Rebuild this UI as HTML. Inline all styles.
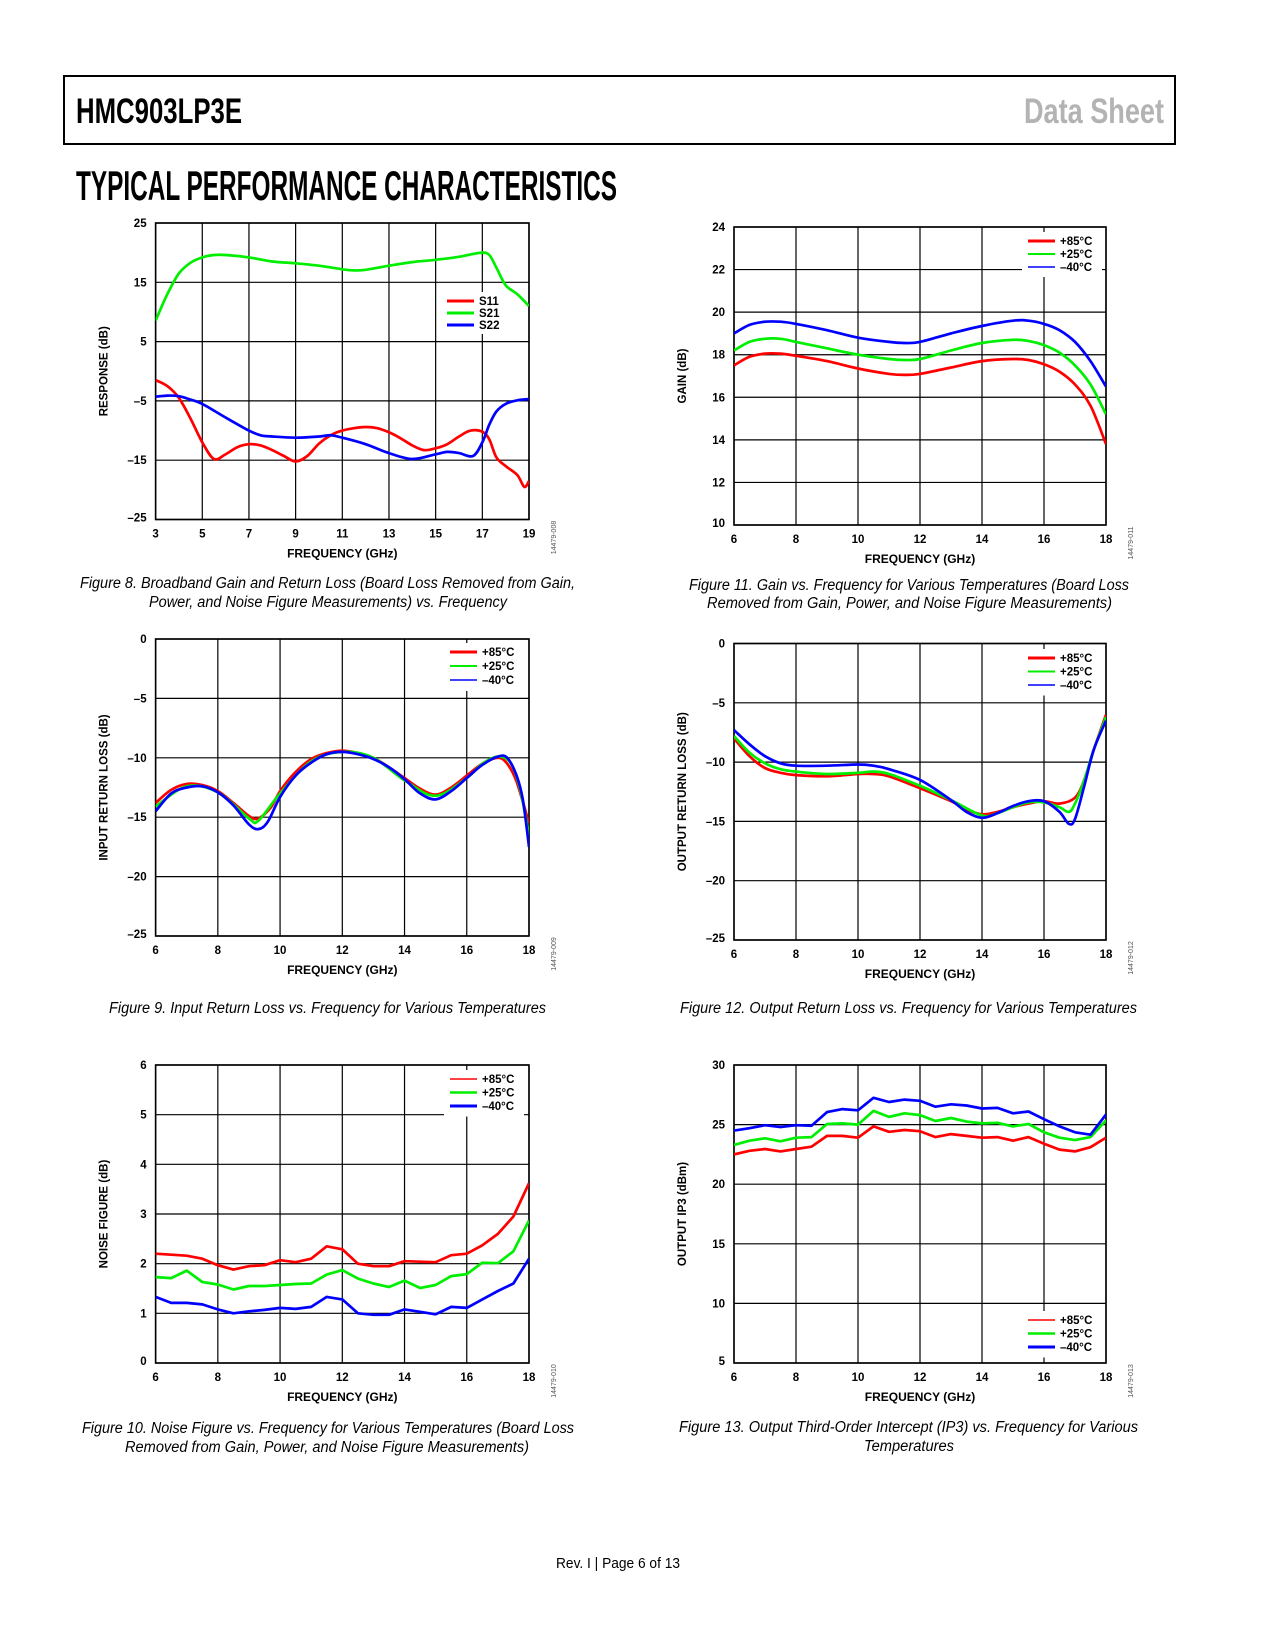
<!DOCTYPE html>
<html><head><meta charset="utf-8"><style>
html,body{margin:0;padding:0;background:#fff;}
svg{display:block;font-family:"Liberation Sans",Arial,sans-serif;}
</style></head><body>
<svg id="page" width="1275" height="1650" viewBox="0 0 1275 1650" xmlns="http://www.w3.org/2000/svg">
<rect x="64" y="76" width="1111" height="68" fill="none" stroke="#000" stroke-width="2"/>
<text x="76" y="123" font-size="35" font-weight="bold" textLength="166" lengthAdjust="spacingAndGlyphs">HMC903LP3E</text>
<text x="1024" y="123" font-size="35" font-weight="bold" fill="#b3b3b3" textLength="140" lengthAdjust="spacingAndGlyphs">Data Sheet</text>
<text x="76" y="200" font-size="42" font-weight="bold" textLength="541" lengthAdjust="spacingAndGlyphs">TYPICAL PERFORMANCE CHARACTERISTICS</text>
<g font-style="italic" font-size="15.5">
<text x="80" y="588" textLength="495" lengthAdjust="spacingAndGlyphs">Figure 8. Broadband Gain and Return Loss (Board Loss Removed from Gain,</text>
<text x="149" y="607" textLength="358" lengthAdjust="spacingAndGlyphs">Power, and Noise Figure Measurements) vs. Frequency</text>
<text x="689" y="590" textLength="440" lengthAdjust="spacingAndGlyphs">Figure 11. Gain vs. Frequency for Various Temperatures (Board Loss</text>
<text x="707" y="608" textLength="405" lengthAdjust="spacingAndGlyphs">Removed from Gain, Power, and Noise Figure Measurements)</text>
<text x="109" y="1013" textLength="437" lengthAdjust="spacingAndGlyphs">Figure 9. Input Return Loss vs. Frequency for Various Temperatures</text>
<text x="680" y="1013" textLength="457" lengthAdjust="spacingAndGlyphs">Figure 12. Output Return Loss vs. Frequency for Various Temperatures</text>
<text x="82" y="1433" textLength="492" lengthAdjust="spacingAndGlyphs">Figure 10. Noise Figure vs. Frequency for Various Temperatures (Board Loss</text>
<text x="125" y="1452" textLength="404" lengthAdjust="spacingAndGlyphs">Removed from Gain, Power, and Noise Figure Measurements)</text>
<text x="679" y="1432" textLength="459" lengthAdjust="spacingAndGlyphs">Figure 13. Output Third-Order Intercept (IP3) vs. Frequency for Various</text>
<text x="864" y="1451" textLength="90" lengthAdjust="spacingAndGlyphs">Temperatures</text>
</g>
<text x="556" y="1568" font-size="14.5" textLength="124" lengthAdjust="spacingAndGlyphs">Rev. I | Page 6 of 13</text>
</svg>
<script>
// ---- Figure 8 data ----
const f8S21Freq=[3,3.5,4,4.5,5,5.5,6,7,8,9,10,11,11.5,12,13,14,15,16,16.5,17,17.3,17.6,18,18.5,19];
const f8S21Db=[8.5,13,16.5,18.3,19.2,19.6,19.6,19.2,18.5,18.2,17.8,17.2,17.0,17.1,17.8,18.4,18.8,19.3,19.7,20,19.6,17.5,14.5,13,11];
const f8S11Freq=[3,3.5,4,4.5,5,5.5,6,6.5,7,7.5,8,8.5,9,9.5,10,10.5,11,11.5,12,12.5,13,13.5,14,14.5,15,15.5,16,16.5,17,17.3,17.6,18,18.5,18.8,19];
const f8S11Db=[-1.5,-2.5,-4.5,-8,-12,-14.8,-14,-12.8,-12.3,-12.5,-13.3,-14.3,-15.2,-14.3,-12.2,-10.8,-10,-9.6,-9.4,-9.6,-10.3,-11.3,-12.5,-13.3,-13,-12.3,-11,-10,-10.2,-11.5,-14.5,-16,-17.5,-19.5,-18.5];
const f8S22Freq=[3,3.5,4,4.5,5,6,7,7.5,8,9,10,10.5,11,12,13,14,15,15.5,16,16.6,17,17.3,17.6,18,18.5,19];
const f8S22Db=[-4.3,-4.1,-4.2,-4.8,-5.5,-7.8,-10,-10.8,-11,-11.2,-11,-10.8,-11.2,-12.3,-13.8,-14.8,-14,-13.6,-13.8,-14.3,-12,-9,-6.8,-5.5,-4.9,-4.7];
const f8XTicks=[3,5,7,9,11,13,15,17,19];
const f8YTicks=[-25,-15,-5,5,15,25];
const f8YLabels=["–25","–15","–5","5","15","25"];
// ---- Figure 11 data ----
const f11Freq=[6,6.5,7,7.5,8,9,10,11,11.5,12,13,14,15,15.5,16,16.5,17,17.5,18];
const f11Gain85=[17.5,17.9,18.05,18.05,17.95,17.7,17.35,17.1,17.05,17.1,17.4,17.7,17.8,17.75,17.55,17.2,16.6,15.6,13.8];
const f11Gain25=[18.2,18.6,18.75,18.75,18.6,18.3,18.0,17.8,17.75,17.8,18.2,18.55,18.7,18.65,18.45,18.1,17.5,16.6,15.2];
const f11GainM40=[19,19.4,19.55,19.55,19.45,19.15,18.8,18.6,18.55,18.6,19.0,19.35,19.6,19.6,19.45,19.15,18.6,17.7,16.5];
const tempXTicks=[6,8,10,12,14,16,18];
const f11YTicks=[10,12,14,16,18,20,22,24];
// ---- Figure 9 data ----
const f9Freq85=[6,6.5,7,7.5,8,8.5,9,9.3,9.7,10,10.5,11,11.5,12,12.5,13,13.5,14,14.5,15,15.5,16,16.5,17,17.3,17.6,18];
const f9Rl85=[-13.8,-12.7,-12.2,-12.3,-12.8,-13.8,-14.9,-15.1,-14.2,-12.8,-11.2,-10.1,-9.6,-9.4,-9.6,-10,-10.8,-11.7,-12.6,-13.1,-12.5,-11.5,-10.5,-10,-10.5,-12,-15.5];
const f9Freq25=[6,7,8,9,9.3,10,11,12,13,14,15,16,16.5,17,17.4,17.7,18];
const f9Rl25=[-14.1,-12.4,-12.9,-15.1,-15.3,-13,-10.3,-9.5,-10,-11.9,-13.2,-11.7,-10.5,-9.9,-10.4,-12.5,-16.5];
const f9FreqM40=[6,6.5,7,7.5,8,8.5,9,9.3,9.6,10,10.5,11,11.5,12,12.5,13,13.5,14,14.5,15,15.5,16,16.5,17,17.3,17.6,17.8,18];
const f9RlM40=[-14.5,-13,-12.5,-12.4,-12.9,-14,-15.6,-16,-15.4,-13.3,-11.5,-10.4,-9.7,-9.5,-9.7,-10.1,-10.8,-11.8,-13,-13.5,-12.8,-11.7,-10.6,-9.9,-10,-11.5,-13.5,-17.5];
const rlYTicks=[-25,-20,-15,-10,-5,0];
const rlYLabels=["–25","–20","–15","–10","–5","0"];
// ---- Figure 12 data ----
const f12Freq85=[6,6.5,7,7.5,8,9,10,10.5,11,12,13,13.5,14,14.5,15,15.5,16,16.5,17,17.3,17.6,18];
const f12Rl85=[-8,-9.5,-10.5,-10.9,-11.1,-11.2,-11,-11,-11.2,-12.2,-13.3,-14,-14.4,-14.2,-13.8,-13.5,-13.3,-13.5,-13,-11.5,-9,-6];
const f12Freq25=[6,6.5,7,7.5,8,9,10,10.5,11,12,13,14,14.5,15,15.5,16,16.5,16.8,17,17.3,17.6,18];
const f12Rl25=[-7.8,-9.2,-10.1,-10.6,-10.8,-11,-10.9,-10.8,-11,-12,-13.2,-14.5,-14.3,-13.8,-13.4,-13.4,-13.8,-14.2,-13.5,-11.5,-9,-6.2];
const f12FreqM40=[6,6.5,7,7.5,8,9,10,10.5,11,12,13,13.5,14,14.5,15,15.5,16,16.5,16.8,17,17.3,17.6,18];
const f12RlM40=[-7.3,-8.5,-9.5,-10.1,-10.3,-10.3,-10.2,-10.3,-10.6,-11.5,-13.2,-14.2,-14.7,-14.3,-13.7,-13.3,-13.3,-14.2,-15.2,-14.8,-12,-9,-6.5];
// ---- Figure 10 / 13 data (shared frequency grid) ----
const stepFreq=[6,6.5,7,7.5,8,8.5,9,9.5,10,10.5,11,11.5,12,12.5,13,13.5,14,14.5,15,15.5,16,16.5,17,17.5,18];
const f10Nf85=[2.2,2.18,2.16,2.1,1.97,1.88,1.95,1.97,2.07,2.03,2.1,2.35,2.29,2.0,1.95,1.95,2.05,2.04,2.03,2.17,2.2,2.37,2.6,2.95,3.62];
const f10Nf25=[1.73,1.71,1.86,1.63,1.58,1.48,1.55,1.55,1.57,1.59,1.6,1.78,1.87,1.7,1.6,1.53,1.66,1.51,1.57,1.75,1.79,2.02,2.01,2.25,2.87];
const f10NfM40=[1.33,1.21,1.21,1.18,1.08,1.0,1.04,1.07,1.11,1.09,1.13,1.33,1.28,1.0,0.97,0.97,1.08,1.03,0.98,1.13,1.11,1.28,1.45,1.6,2.1];
const f10YTicks=[0,1,2,3,4,5,6];
const f13Ip385=[22.5,22.8,22.95,22.75,22.95,23.15,24.05,24.05,23.9,24.85,24.4,24.55,24.45,23.95,24.2,24.05,23.9,23.95,23.65,23.95,23.4,22.9,22.75,23.1,23.9];
const f13Ip325=[23.3,23.65,23.85,23.6,23.9,23.95,25.05,25.1,25.0,26.15,25.65,25.95,25.8,25.3,25.55,25.25,25.1,25.15,24.85,25.05,24.35,23.9,23.7,23.95,25.35];
const f13Ip3M40=[24.5,24.7,24.95,24.8,24.95,24.9,26.05,26.3,26.2,27.25,26.9,27.1,27.0,26.5,26.7,26.6,26.35,26.4,25.95,26.1,25.45,24.85,24.35,24.15,25.85];
const f13YTicks=[5,10,15,20,25,30];

const NS="http://www.w3.org/2000/svg";
const svg=document.getElementById('page');
const RED="#ff0000",GREEN="#00ee00",BLUE="#0000ff";
function mk(tag,attrs,parent){const e=document.createElementNS(NS,tag);for(const k in attrs)e.setAttribute(k,attrs[k]);(parent||svg).appendChild(e);return e;}
function smoothPath(pts){let d="M"+pts[0][0].toFixed(1)+","+pts[0][1].toFixed(1);
 for(let i=0;i<pts.length-1;i++){const p0=pts[Math.max(0,i-1)],p1=pts[i],p2=pts[i+1],p3=pts[Math.min(pts.length-1,i+2)];
  const c1=[p1[0]+(p2[0]-p0[0])/6,p1[1]+(p2[1]-p0[1])/6],c2=[p2[0]-(p3[0]-p1[0])/6,p2[1]-(p3[1]-p1[1])/6];
  d+=" C"+c1[0].toFixed(1)+","+c1[1].toFixed(1)+" "+c2[0].toFixed(1)+","+c2[1].toFixed(1)+" "+p2[0].toFixed(1)+","+p2[1].toFixed(1);}
 return d;}
function chart(c){
 const g=mk('g',{});
 
 
 const sx=v=>c.x0+(v-c.xmin)/(c.xmax-c.xmin)*(c.x1-c.x0);
 const sy=v=>c.y1-(v-c.ymin)/(c.ymax-c.ymin)*(c.y1-c.y0);
 c.xTicks.forEach((t,i)=>{
  const l=mk('line',{x1:sx(t),x2:sx(t),y1:c.y0,y2:c.y1,stroke:'#000','stroke-width':1.2},g);
  
  
  const tx=mk('text',{x:sx(t),y:c.y1+18,'font-size':11.5,'font-weight':'bold','text-anchor':'middle'},g);
  
  
  tx.textContent=String(t);});
 c.yTicks.forEach((t,i)=>{
  const l=mk('line',{x1:c.x0,x2:c.x1,y1:sy(t),y2:sy(t),stroke:'#000','stroke-width':1.2},g);
  
  
  const tx=mk('text',{x:c.x0-9,y:sy(t)+(i===0?2:4),'font-size':11.5,'font-weight':'bold','text-anchor':'end'},g);
  
  
  tx.textContent=c.yLabels?c.yLabels[i]:String(t);});
 const fr=mk('rect',{x:c.x0,y:c.y0,width:c.x1-c.x0,height:c.y1-c.y0,fill:'none',stroke:'#000','stroke-width':1.6},g);
 
 
 const lb=mk('rect',{x:c.lx-6,y:c.ly-9,width:c.lw,height:c.legend.length*c.ldy+6,fill:'#fff'},g);
 
 
 const clip=mk('clipPath',{id:c.name+'-clip'},g);
 mk('rect',{x:c.x0,y:c.y0,width:c.x1-c.x0,height:c.y1-c.y0},clip);
 c.series.forEach(s=>{
  const pts=s.x.map((v,i)=>[sx(v),sy(s.y[i])]);
  const d=c.smooth?smoothPath(pts):"M"+pts.map(p=>p[0].toFixed(1)+","+p[1].toFixed(1)).join(" L");
  const p=mk('path',{d:d,fill:'none',stroke:s.color,'stroke-width':2.7,'stroke-linejoin':'round','clip-path':'url(#'+c.name+'-clip)'},g);
  
  });
 c.legend.forEach((L,i)=>{
  const y=c.ly+i*c.ldy;
  const l=mk('line',{x1:c.lx,x2:c.lx+27,y1:y,y2:y,stroke:L[1],'stroke-width':L[2]},g);
  
  
  const t=mk('text',{x:c.lx+32,y:y+4,'font-size':11.5,'font-weight':'bold'},g);
  
  
  t.textContent=L[0];});
 const xt=mk('text',{x:(c.x0+c.x1)/2,y:c.y1+38,'font-size':12,'font-weight':'bold','text-anchor':'middle'},g);
 
 
 xt.textContent='FREQUENCY (GHz)';
 const yx=c.x0-48,yy=(c.y0+c.y1)/2;
 const yt=mk('text',{x:yx,y:yy,'font-size':11.5,'font-weight':'bold','text-anchor':'middle',transform:'rotate(-90 '+yx+' '+yy+')'},g);
 
 
 yt.textContent=c.ytitle;
 const fx=c.x1+27,fy=c.y1+18;
 const ft=mk('text',{x:fx,y:fy,'font-size':7,fill:'#555','text-anchor':'middle',transform:'rotate(-90 '+fx+' '+fy+')'},g);
 
 
 ft.textContent=c.fid;
}
const temps=(a,b,c)=>[["+85°C",RED,a],["+25°C",GREEN,b],["–40°C",BLUE,c]];
const L={x0:155.6,x1:529}, R={x0:734,x1:1106};
chart({name:'fig8-broadband-chart',...L,y0:223,y1:519.5,xmin:3,xmax:19,ymin:-25,ymax:25,xTicks:f8XTicks,yTicks:f8YTicks,yLabels:f8YLabels,smooth:true,ytitle:'RESPONSE (dB)',fid:'14479-008',
 series:[{name:'s21-line',x:f8S21Freq,y:f8S21Db,color:GREEN},{name:'s11-line',x:f8S11Freq,y:f8S11Db,color:RED},{name:'s22-line',x:f8S22Freq,y:f8S22Db,color:BLUE}],
 legend:[["S11",RED,3],["S21",GREEN,3],["S22",BLUE,3]],lx:447,ly:301,ldy:12,lw:62});
chart({name:'fig11-gain-chart',...R,y0:227,y1:525,xmin:6,xmax:18,ymin:10,ymax:24,xTicks:tempXTicks,yTicks:f11YTicks,smooth:true,ytitle:'GAIN (dB)',fid:'14479-011',
 series:[{name:'gain-85c-line',x:f11Freq,y:f11Gain85,color:RED},{name:'gain-25c-line',x:f11Freq,y:f11Gain25,color:GREEN},{name:'gain-m40c-line',x:f11Freq,y:f11GainM40,color:BLUE}],
 legend:temps(3,2,1.5),lx:1028,ly:241,ldy:13,lw:80});
chart({name:'fig9-input-return-loss-chart',...L,y0:639,y1:936,xmin:6,xmax:18,ymin:-25,ymax:0,xTicks:tempXTicks,yTicks:rlYTicks,yLabels:rlYLabels,smooth:true,ytitle:'INPUT RETURN LOSS (dB)',fid:'14479-009',
 series:[{name:'irl-85c-line',x:f9Freq85,y:f9Rl85,color:RED},{name:'irl-25c-line',x:f9Freq25,y:f9Rl25,color:GREEN},{name:'irl-m40c-line',x:f9FreqM40,y:f9RlM40,color:BLUE}],
 legend:temps(3,2,1.5),lx:450,ly:652,ldy:14,lw:80});
chart({name:'fig12-output-return-loss-chart',...R,y0:643.5,y1:940,xmin:6,xmax:18,ymin:-25,ymax:0,xTicks:tempXTicks,yTicks:rlYTicks,yLabels:rlYLabels,smooth:true,ytitle:'OUTPUT RETURN LOSS (dB)',fid:'14479-012',
 series:[{name:'orl-85c-line',x:f12Freq85,y:f12Rl85,color:RED},{name:'orl-25c-line',x:f12Freq25,y:f12Rl25,color:GREEN},{name:'orl-m40c-line',x:f12FreqM40,y:f12RlM40,color:BLUE}],
 legend:temps(3,2,1.5),lx:1028,ly:658,ldy:13.5,lw:80});
chart({name:'fig10-noise-figure-chart',...L,y0:1065,y1:1363,xmin:6,xmax:18,ymin:0,ymax:6,xTicks:tempXTicks,yTicks:f10YTicks,smooth:false,ytitle:'NOISE FIGURE (dB)',fid:'14479-010',
 series:[{name:'nf-85c-line',x:stepFreq,y:f10Nf85,color:RED},{name:'nf-25c-line',x:stepFreq,y:f10Nf25,color:GREEN},{name:'nf-m40c-line',x:stepFreq,y:f10NfM40,color:BLUE}],
 legend:temps(1.5,2.5,3),lx:450,ly:1079,ldy:13.5,lw:80});
chart({name:'fig13-output-ip3-chart',...R,y0:1065,y1:1363,xmin:6,xmax:18,ymin:5,ymax:30,xTicks:tempXTicks,yTicks:f13YTicks,smooth:false,ytitle:'OUTPUT IP3 (dBm)',fid:'14479-013',
 series:[{name:'ip3-85c-line',x:stepFreq,y:f13Ip385,color:RED},{name:'ip3-25c-line',x:stepFreq,y:f13Ip325,color:GREEN},{name:'ip3-m40c-line',x:stepFreq,y:f13Ip3M40,color:BLUE}],
 legend:temps(1.5,2.5,3),lx:1028,ly:1320,ldy:13.5,lw:80});
</script>
</body></html>
